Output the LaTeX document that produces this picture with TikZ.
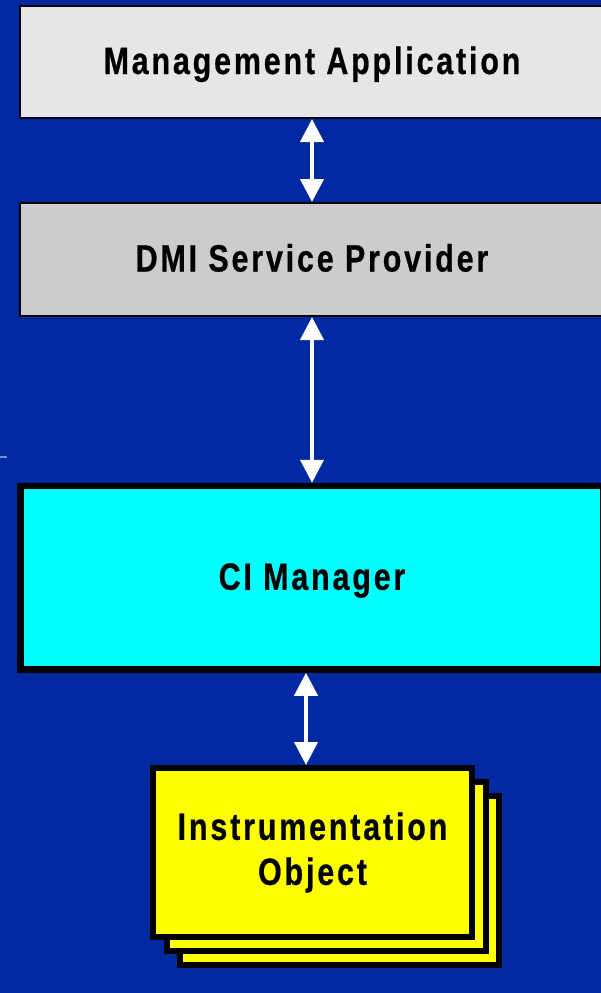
\documentclass[tikz,border=0pt]{standalone}
\usepackage{fontspec}
\usetikzlibrary{arrows.meta}
\newfontfamily\lblfont{Liberation Sans Bold}[FakeStretch=0.8,LetterSpace=7.5,FakeBold=0.6]
\definecolor{bgblue}{RGB}{0,40,160}
\definecolor{graya}{RGB}{230,230,230}
\definecolor{grayb}{RGB}{204,204,204}
\definecolor{cimcyan}{RGB}{0,255,255}
\definecolor{ioyellow}{RGB}{255,255,0}
\definecolor{tick}{RGB}{120,140,210}
\begin{document}
\begin{tikzpicture}[x=1pt,y=-1pt,
  box/.style={draw=black,inner sep=0pt,font=\lblfont\fontsize{38}{45}\selectfont,align=center,text=black},
  onebox/.style={box,text height=27pt,text depth=3pt},
  arr/.style={draw=white,line width=4pt,{Triangle[width=23pt,length=23pt]}-{Triangle[width=23pt,length=23pt]}},
  iobox/.style={box,fill=ioyellow,line width=6pt,minimum width=319pt,minimum height=169pt}
]
\fill[bgblue] (0,0) rectangle (601,993);
\useasboundingbox (0,0) rectangle (601,993);
\clip (0,0) rectangle (601,993);
\draw[tick,line width=1.5pt] (0,457) -- (7,457);
% boxes
\node[onebox,fill=graya,line width=2pt,minimum width=584pt,minimum height=112pt] (ma) at (312,62) {Management Application};
\node[onebox,fill=grayb,line width=2pt,minimum width=584pt,minimum height=113pt] (dmi) at (312,259.5) {DMI Service Provider};
\node[onebox,fill=cimcyan,line width=6.5pt,minimum width=583pt,minimum height=183.5pt] (cim) at (312,577.75) {CI Manager};
\node[iobox] (io3) at (339.5,880.5) {};
\node[iobox] (io2) at (326,866.5) {};
\node[iobox] (io) at (312.5,852.5) {Instrumentation\\Object};
% connectors
\draw[arr] (ma.south) -- (dmi.north);
\draw[arr] (dmi.south) -- (cim.north);
\draw[arr] ([xshift=-6.5pt]io.north |- cim.south) -- ([xshift=-6.5pt]io.north);
\end{tikzpicture}
\end{document}
